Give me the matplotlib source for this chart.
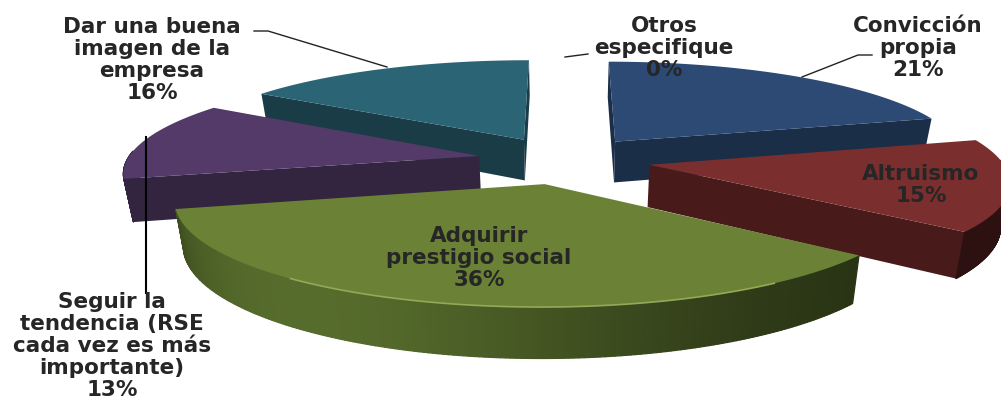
"""Exploded 3D pie of motives, drawn with a simple perspective projection."""
import matplotlib
matplotlib.use("Agg")
import matplotlib.pyplot as plt
import numpy as np
from matplotlib.collections import PolyCollection
from matplotlib.colors import to_rgb

categories = [
    "Convicción\npropia",
    "Altruismo",
    "Adquirir\nprestigio social",
    "Seguir la\ntendencia (RSE\ncada vez es más\nimportante)",
    "Dar una buena\nimagen de la\nempresa",
    "Otros\nespecifique",
]
values = [21, 15, 36, 13, 16, 0]
top_colours = ["#2c4a73", "#7b2e2e", "#6b8236", "#533a68", "#2a6475", "#888888"]
side_colours = ["#1b2e47", "#481a1a", "#3f4f20", "#33243f", "#1a3c46", "#555555"]
label_xy = [(918, 48), (921, 185), (479, 258), (112, 346), (152, 60), (664, 48)]

# projection
VX, VY = 564, 160
A, G, P = 352, 96.8, 0.148
EXPLODE = 0.246
DEPTH = 42
TAPER = 0.00052  # walls lean inwards going down
draw_order = [4, 0, 3, 1, 2]


def project(x, y, z=0.0):
    w = 1 / (1 + P * y)
    return VX + A * x * w * (1 - TAPER * z), VY - G * y * w + z * w


def mix(colour, factor):
    return tuple(min(1, c * factor) for c in to_rgb(colour))


fig = plt.figure(figsize=(10.01, 4.01), dpi=100)
ax = fig.add_axes([0, 0, 1, 1])
ax.set_xlim(0, 1001)
ax.set_ylim(401, 0)
ax.axis("off")

edges = np.cumsum([0] + values) / sum(values) * 2 * np.pi
for n, i in enumerate(draw_order):
    a0, a1 = edges[i], edges[i + 1]
    mid = (a0 + a1) / 2
    ox, oy = EXPLODE * np.sin(mid), EXPLODE * np.cos(mid)
    t = np.linspace(a0, a1, 180)
    rim_x, rim_y = ox + np.sin(t), oy + np.cos(t)

    def face(xs, ys):
        top = np.column_stack(project(xs, ys))
        low = np.column_stack(project(xs, ys, DEPTH))
        return np.vstack([top, low[::-1]])

    # the cut faces that look towards the viewer
    for a, normal in ((a0, a0 - np.pi / 2), (a1, a1 + np.pi / 2)):
        if np.cos(normal) < 0.05:
            xs = np.array([ox, ox + np.sin(a)])
            ys = np.array([oy, oy + np.cos(a)])
            ax.add_patch(plt.Polygon(face(xs, ys), color=side_colours[i], lw=0, zorder=1 + n * 3))

    # outer wall, shaded along the arc
    polys, shades = [], []
    for j in range(len(t) - 1):
        if np.cos(t[j]) > 0.05:
            continue
        polys.append(face(rim_x[j:j + 2], rim_y[j:j + 2]))
        light = 1.0
        if i == 1:
            light = 0.62
        if i == 2:
            light = 0.62 + 0.75 * np.exp(-(((np.degrees(t[j]) - 215) / 50) ** 2))
        shades.append(mix(side_colours[i], light))
    ax.add_collection(
        PolyCollection(polys, facecolors=shades, edgecolors=shades, linewidths=0.9, zorder=2 + n * 3)
    )

    # top surface
    top_x = np.r_[ox, rim_x]
    top_y = np.r_[oy, rim_y]
    ax.add_patch(plt.Polygon(np.column_stack(project(top_x, top_y)), color=top_colours[i], lw=0, zorder=3 + n * 3))
    if i == 2:
        ax.plot(*project(rim_x[25:125], rim_y[25:125]), color="#93a957", lw=1.2, zorder=3.5 + n * 3)

# leader lines
ax.plot([254, 268, 387], [31, 31, 67], color="#222222", lw=1, zorder=30)
ax.plot([565, 588], [57, 54], color="#222222", lw=1, zorder=30)
ax.plot([802, 858, 872], [77, 55, 55], color="#222222", lw=1, zorder=30)
ax.plot([146, 146], [137, 293], color="black", lw=1.5, zorder=30)

for name, v, (x, y) in zip(categories, values, label_xy):
    ax.text(
        x, y, f"{name}\n{v}%", ha="center", va="center", ma="center", fontsize=15.5,
        fontweight="bold", linespacing=1.12, color="#262626", family="DejaVu Sans", zorder=40,
    )

fig.savefig("out.png", dpi=100)
